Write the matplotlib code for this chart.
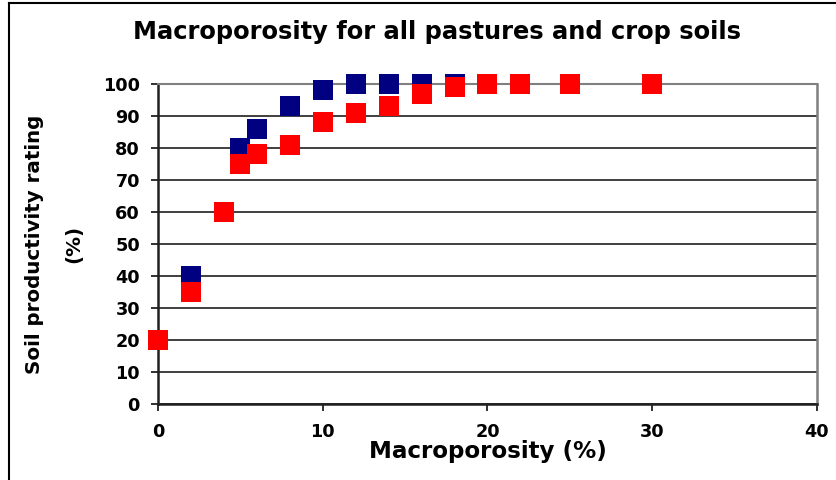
import matplotlib
matplotlib.use("Agg")
import matplotlib.pyplot as plt
from matplotlib.lines import Line2D

plt.rcParams['font.family'] = ['DejaVu Sans']

title = "Macroporosity for all pastures and crop soils"
xlabel = "Macroporosity (%)"
ylabel = "Soil productivity rating\n(%)"

pasture_x = [2, 5, 6, 8, 10, 12, 14, 16, 18]
pasture_y = [40, 80, 86, 93, 98, 100, 100, 100, 100]

crop_x = [0, 2, 4, 5, 6, 8, 10, 12, 14, 16, 18, 20, 22, 25, 30]
crop_y = [20, 35, 60, 75, 78, 81, 88, 91, 93, 97, 99, 100, 100, 100, 100]

xticks = [0, 10, 20, 30, 40]
yticks = [0, 10, 20, 30, 40, 50, 60, 70, 80, 90, 100]

fig = plt.figure(figsize=(8.37, 4.8), dpi=100)
ax = fig.add_axes([158/837, 1-404/480, (817-158)/837, (404-84)/480])

ax.set_xlim(0, 40)
ax.set_ylim(0, 100)
ax.set_yticks(yticks)
ax.set_xticks(xticks)
ax.grid(axis='y', color='#303030', linewidth=1.3)
ax.set_axisbelow(True)

ms = 14.4
ax.plot(pasture_x, pasture_y, linestyle='none', marker='s', markersize=ms,
        color='#000080', markeredgewidth=0, clip_on=False, zorder=3)
ax.plot(crop_x, crop_y, linestyle='none', marker='s', markersize=ms,
        color='#ff0000', markeredgewidth=0, clip_on=False, zorder=4)

for s in ['left', 'bottom']:
    ax.spines[s].set_color('#202020')
    ax.spines[s].set_linewidth(1.8)
ax.spines['right'].set_color('#808080')
ax.spines['right'].set_linewidth(1.8)
ax.spines['top'].set_color('#808080')
ax.spines['top'].set_linewidth(1.5)

ax.tick_params(axis='both', direction='out', length=5, width=1.3, color='#202020',
               labelsize=12.7)
ax.tick_params(axis='y', pad=8)
ax.tick_params(axis='x', pad=9)
for lab in ax.get_xticklabels() + ax.get_yticklabels():
    lab.set_fontweight('bold')

ax.set_xlabel(xlabel, fontsize=16.6, fontweight='bold', labelpad=-1)
ax.set_ylabel(ylabel, fontsize=14.3, fontweight='bold', labelpad=14.5, linespacing=2.3)

fig.text(437/837, 1-32/480, title, ha='center', va='center', fontsize=17.4, fontweight='bold')

fig.add_artist(Line2D([9/837, 9/837], [0, 1-3/480], color='black', linewidth=1.5, transform=fig.transFigure))
fig.add_artist(Line2D([9/837, 1], [1-3/480, 1-3/480], color='black', linewidth=1.5, transform=fig.transFigure))

fig.savefig("out.png", dpi=100)
